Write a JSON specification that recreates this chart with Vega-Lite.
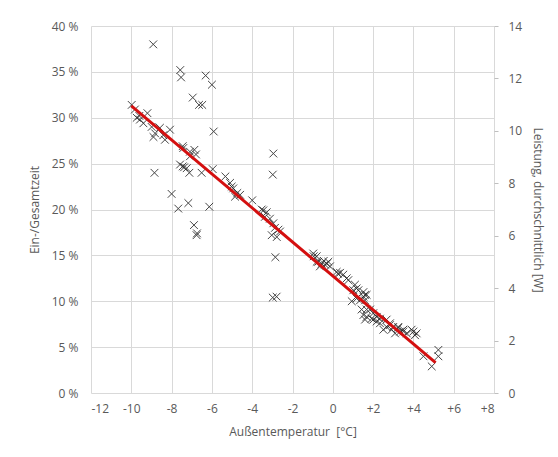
{
  "$schema": "https://vega.github.io/schema/vega-lite/v6.json",
  "width": 403,
  "height": 367,
  "autosize": {"type": "none"},
  "padding": {"left": 91, "top": 26, "right": 64, "bottom": 64},
  "background": "white",
  "config": {
    "view": {"stroke": null},
    "font": "Open Sans",
    "axis": {
      "labelFont": "Open Sans", "titleFont": "Open Sans",
      "labelFontSize": 12, "titleFontSize": 12,
      "labelColor": "#595959", "titleColor": "#595959",
      "titleFontWeight": "normal",
      "gridColor": "#d9d9d9", "gridWidth": 1,
      "domain": false
    }
  },
  "datasets": {
    "pts": [
      {"T": -9.98, "p": 31.4}, {"T": -9.82, "p": 30.9}, {"T": -9.73, "p": 30.0}, {"T": -9.57, "p": 29.8},
      {"T": -9.4, "p": 29.4}, {"T": -9.2, "p": 30.5}, {"T": -8.99, "p": 29.0}, {"T": -8.82, "p": 28.3},
      {"T": -8.9, "p": 27.9}, {"T": -8.58, "p": 28.9}, {"T": -8.41, "p": 28.1}, {"T": -8.33, "p": 27.6},
      {"T": -8.08, "p": 28.7}, {"T": -9.6, "p": 30.2}, {"T": -7.45, "p": 26.9}, {"T": -7.42, "p": 26.7},
      {"T": -7.09, "p": 26.3}, {"T": -6.87, "p": 26.5}, {"T": -6.79, "p": 26.0}, {"T": -7.09, "p": 25.8},
      {"T": -8.91, "p": 38.0}, {"T": -7.57, "p": 35.2}, {"T": -7.53, "p": 34.4}, {"T": -6.31, "p": 34.6},
      {"T": -6.0, "p": 33.6}, {"T": -6.95, "p": 32.2}, {"T": -6.64, "p": 31.4}, {"T": -6.48, "p": 31.4},
      {"T": -5.91, "p": 28.5}, {"T": -2.95, "p": 26.1}, {"T": -2.98, "p": 23.8},
      {"T": -8.85, "p": 24.0}, {"T": -7.58, "p": 24.9}, {"T": -7.45, "p": 24.7}, {"T": -7.38, "p": 24.6},
      {"T": -7.25, "p": 24.5}, {"T": -7.12, "p": 24.0}, {"T": -6.51, "p": 24.0}, {"T": -5.96, "p": 24.4},
      {"T": -8.0, "p": 21.7}, {"T": -7.67, "p": 20.1}, {"T": -7.17, "p": 20.7}, {"T": -6.13, "p": 20.3},
      {"T": -6.89, "p": 18.3}, {"T": -6.76, "p": 17.2}, {"T": -6.74, "p": 17.4},
      {"T": -5.33, "p": 23.6}, {"T": -5.1, "p": 22.9}, {"T": -5.02, "p": 22.5}, {"T": -4.94, "p": 22.3},
      {"T": -4.74, "p": 21.8}, {"T": -4.6, "p": 21.6}, {"T": -4.85, "p": 21.4}, {"T": -4.0, "p": 21.0},
      {"T": -3.53, "p": 20.0}, {"T": -3.45, "p": 19.9}, {"T": -3.28, "p": 19.7}, {"T": -3.37, "p": 19.2},
      {"T": -3.12, "p": 19.0}, {"T": -2.95, "p": 18.5}, {"T": -2.87, "p": 18.0}, {"T": -2.7, "p": 17.8},
      {"T": -2.62, "p": 17.6}, {"T": -3.03, "p": 17.2}, {"T": -2.78, "p": 17.0}, {"T": -2.85, "p": 14.8},
      {"T": -2.98, "p": 10.4}, {"T": -2.79, "p": 10.5},
      {"T": -0.97, "p": 15.2}, {"T": -0.95, "p": 14.9}, {"T": -0.8, "p": 14.9}, {"T": -0.8, "p": 14.3},
      {"T": -0.72, "p": 14.3}, {"T": -0.64, "p": 13.8}, {"T": -0.55, "p": 14.1}, {"T": -0.45, "p": 14.4},
      {"T": -0.39, "p": 14.0}, {"T": -0.3, "p": 14.1}, {"T": -0.22, "p": 14.3}, {"T": -0.14, "p": 13.8},
      {"T": 0.19, "p": 13.2}, {"T": 0.25, "p": 13.0}, {"T": 0.36, "p": 13.1}, {"T": 0.52, "p": 12.9},
      {"T": 0.69, "p": 12.5}, {"T": 0.77, "p": 12.3}, {"T": 0.94, "p": 10.0}, {"T": 1.1, "p": 11.8},
      {"T": 1.18, "p": 11.4}, {"T": 1.27, "p": 11.2}, {"T": 1.02, "p": 11.2}, {"T": 1.52, "p": 11.0},
      {"T": 1.6, "p": 10.7}, {"T": 1.68, "p": 10.7}, {"T": 1.52, "p": 10.5}, {"T": 1.18, "p": 10.3},
      {"T": 1.35, "p": 10.1}, {"T": 1.6, "p": 10.1}, {"T": 1.43, "p": 9.1}, {"T": 1.68, "p": 9.1},
      {"T": 1.85, "p": 9.1}, {"T": 1.52, "p": 8.5}, {"T": 2.01, "p": 8.7}, {"T": 1.6, "p": 8.0},
      {"T": 1.68, "p": 8.3}, {"T": 1.93, "p": 8.1}, {"T": 2.18, "p": 8.3}, {"T": 2.01, "p": 8.0},
      {"T": 2.18, "p": 7.8}, {"T": 2.34, "p": 8.1}, {"T": 2.34, "p": 7.6}, {"T": 2.51, "p": 6.9},
      {"T": 2.67, "p": 7.2}, {"T": 2.67, "p": 8.0}, {"T": 2.84, "p": 7.6}, {"T": 2.84, "p": 7.4},
      {"T": 2.92, "p": 6.9}, {"T": 3.0, "p": 7.2}, {"T": 3.09, "p": 6.5}, {"T": 3.25, "p": 7.1},
      {"T": 3.25, "p": 7.2}, {"T": 3.34, "p": 6.7}, {"T": 3.5, "p": 6.9}, {"T": 3.5, "p": 6.7},
      {"T": 3.67, "p": 6.5}, {"T": 3.91, "p": 6.9}, {"T": 4.0, "p": 6.7}, {"T": 4.08, "p": 6.3},
      {"T": 4.16, "p": 6.5}, {"T": 4.5, "p": 4.0}, {"T": 4.91, "p": 2.9}, {"T": 5.24, "p": 4.7},
      {"T": 5.24, "p": 4.0}
    ],
    "trend": [{"T": -10, "p": 31.3}, {"T": 5.1, "p": 3.3}],
    "watt": [{"w": 0}, {"w": 14}]
  },
  "layer": [
    {
      "layer": [
        {
          "data": {"name": "pts"},
          "mark": {"type": "point", "shape": "M-1,-1L1,1M-1,1L1,-1", "filled": false, "stroke": "#262626", "strokeWidth": 1, "size": 60, "opacity": 0.85},
          "encoding": {
            "x": {"field": "T", "type": "quantitative",
                  "scale": {"domain": [-12, 8], "nice": false, "zero": false},
                  "axis": {"values": [-12, -10, -8, -6, -4, -2, 0, 2, 4, 6, 8], "ticks": false, "labelPadding": 10,
                           "labelExpr": "datum.value > 0 ? '+' + datum.value : '' + datum.value",
                           "title": "Außentemperatur \u00a0[°C]", "titlePadding": 12}},
            "y": {"field": "p", "type": "quantitative",
                  "scale": {"domain": [0, 40], "nice": false},
                  "axis": {"values": [0, 5, 10, 15, 20, 25, 30, 35, 40], "ticks": false, "labelPadding": 13,
                           "labelExpr": "datum.value + ' %'", "title": "Ein-/Gesamtzeit", "titlePadding": 10}}
          }
        },
        {
          "data": {"name": "trend"},
          "mark": {"type": "line", "color": "#d40f0f", "strokeWidth": 3},
          "encoding": {
            "x": {"field": "T", "type": "quantitative"},
            "y": {"field": "p", "type": "quantitative"}
          }
        }
      ]
    },
    {
      "data": {"name": "watt"},
      "mark": {"type": "point", "opacity": 0},
      "encoding": {
        "y": {"field": "w", "type": "quantitative",
              "scale": {"domain": [0, 14], "nice": false},
              "axis": {"orient": "right", "values": [0, 2, 4, 6, 8, 10, 12, 14], "grid": false,
                       "ticks": true, "tickSize": 4, "tickColor": "#bfbfbf", "labelPadding": 10,
                       "title": "Leistung, durchschnittlich [W]", "titlePadding": 9}}
      }
    }
  ],
  "resolve": {"scale": {"y": "independent"}}
}
